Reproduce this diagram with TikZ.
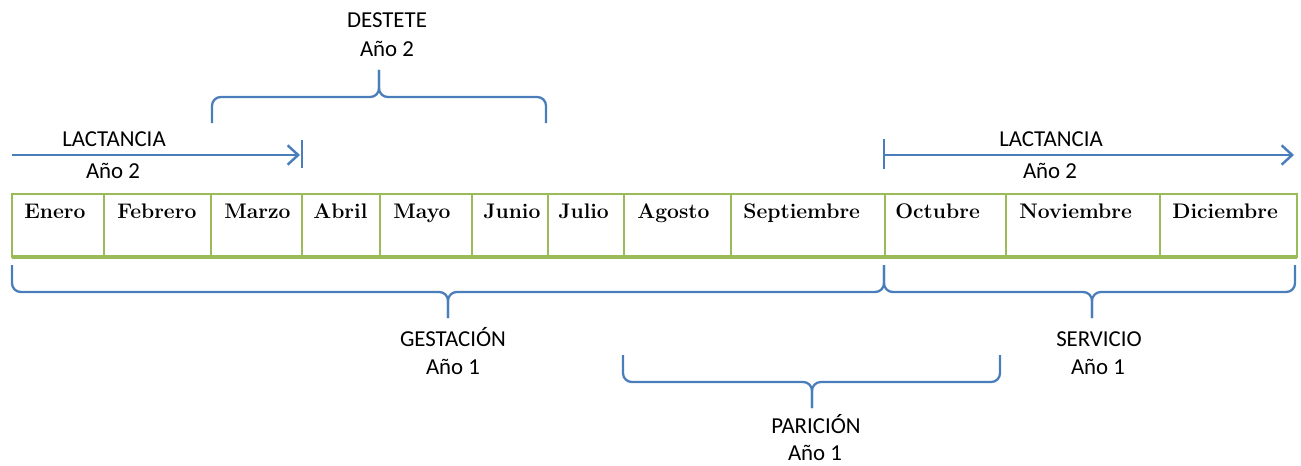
\documentclass[tikz,border=0pt]{standalone}
\usepackage{fontspec}
\setsansfont{Carlito}
\usetikzlibrary{arrows.meta}

\definecolor{lineblue}{HTML}{4A7EBB}
\definecolor{gridgreen}{HTML}{9BBB59}

\tikzset{
  month/.style={anchor=base west, inner sep=0pt, font=\fontsize{12}{14}\selectfont\bfseries},
  phase/.style={anchor=base, inner sep=0pt, font=\sffamily\fontsize{13}{15}\selectfont},
  cellline/.style={draw=gridgreen, line width=0.9pt},
  curly/.style={draw=lineblue, line width=1.3pt, rounded corners=5pt},
  span/.style={draw=lineblue, line width=1.4pt, -{Straight Barb[length=6pt,width=11pt]}},
  tick/.style={draw=lineblue, line width=1.4pt}
}

\begin{document}
\begin{tikzpicture}[x=0.02cm, y=-0.02cm]
\useasboundingbox (0,0) rectangle (1301,466);

% table of months
\draw[cellline] (12,194) rectangle (1297,257);
\draw[cellline] (104,194) -- (104,257) (211,194) -- (211,257)
  (302,194) -- (302,257) (380,194) -- (380,257) (472,194) -- (472,257)
  (548,194) -- (548,257) (624,194) -- (624,257) (731,194) -- (731,257)
  (885,194) -- (885,257) (1006,194) -- (1006,257) (1160,194) -- (1160,257);
\draw[gridgreen, line width=2.4pt] (12,257) -- (1297,257);

\node[month] (ene) at (24,218) {Enero};
\node[month] (feb) at (117,218) {Febrero};
\node[month] (mar) at (224,218) {Marzo};
\node[month] (abr) at (313,218) {Abril};
\node[month] (may) at (393,218) {Mayo};
\node[month] (jun) at (483,218) {Junio};
\node[month] (jul) at (558,218) {Julio};
\node[month] (ago) at (637,218) {Agosto};
\node[month] (sep) at (743,218) {Septiembre};
\node[month] (oct) at (895,218) {Octubre};
\node[month] (nov) at (1019,218) {Noviembre};
\node[month] (dic) at (1172,218) {Diciembre};

% lactancia, left
\coordinate (lacLs) at (12,155);
\coordinate (lacLe) at (300,155);
\coordinate (lacLt) at (302,140);
\coordinate (lacLb) at (302,168);
\draw[span] (lacLs) -- (lacLe);
\draw[tick] (lacLt) -- (lacLb);
\node[phase] (lacL) at (114,146) {LACTANCIA};
\node[phase] (lacLano) at (113,178) {Año 2};

% lactancia, right
\coordinate (lacRs) at (884,155);
\coordinate (lacRe) at (1294,155);
\coordinate (lacRt) at (884,139);
\coordinate (lacRb) at (884,169);
\draw[span] (lacRs) -- (lacRe);
\draw[tick] (lacRt) -- (lacRb);
\node[phase] (lacR) at (1051,146) {LACTANCIA};
\node[phase] (lacRano) at (1050,178) {Año 2};

% destete
\coordinate (desL) at (212,123);
\coordinate (desM) at (379,97);
\coordinate (desT) at (379,70);
\coordinate (desR) at (546,123);
\draw[curly] (desL) |- (desM) -- (desT);
\draw[curly] (desT) -- (desM) -| (desR);
\node[phase] (des) at (387,28) {DESTETE};
\node[phase] (desano) at (387,57) {Año 2};

% gestacion
\coordinate (gesL) at (12,265);
\coordinate (gesM) at (448,292);
\coordinate (gesT) at (448,318);
\coordinate (gesR) at (884,265);
\draw[curly] (gesL) |- (gesM) -- (gesT);
\draw[curly] (gesT) -- (gesM) -| (gesR);
\node[phase] (ges) at (453,346) {GESTACIÓN};
\node[phase] (gesano) at (453,374) {Año 1};

% servicio
\coordinate (serM) at (1092,292);
\coordinate (serT) at (1092,318);
\coordinate (serR) at (1295,265);
\draw[curly] (gesR) |- (serM) -- (serT);
\draw[curly] (serT) -- (serM) -| (serR);
\node[phase] (ser) at (1099,346) {SERVICIO};
\node[phase] (serano) at (1098,374) {Año 1};

% paricion
\coordinate (parL) at (623,355);
\coordinate (parM) at (812,382);
\coordinate (parT) at (812,408);
\coordinate (parR) at (1000,355);
\draw[curly] (parL) |- (parM) -- (parT);
\draw[curly] (parT) -- (parM) -| (parR);
\node[phase] (par) at (816,433) {PARICIÓN};
\node[phase] (parano) at (815,460) {Año 1};
\end{tikzpicture}
\end{document}
